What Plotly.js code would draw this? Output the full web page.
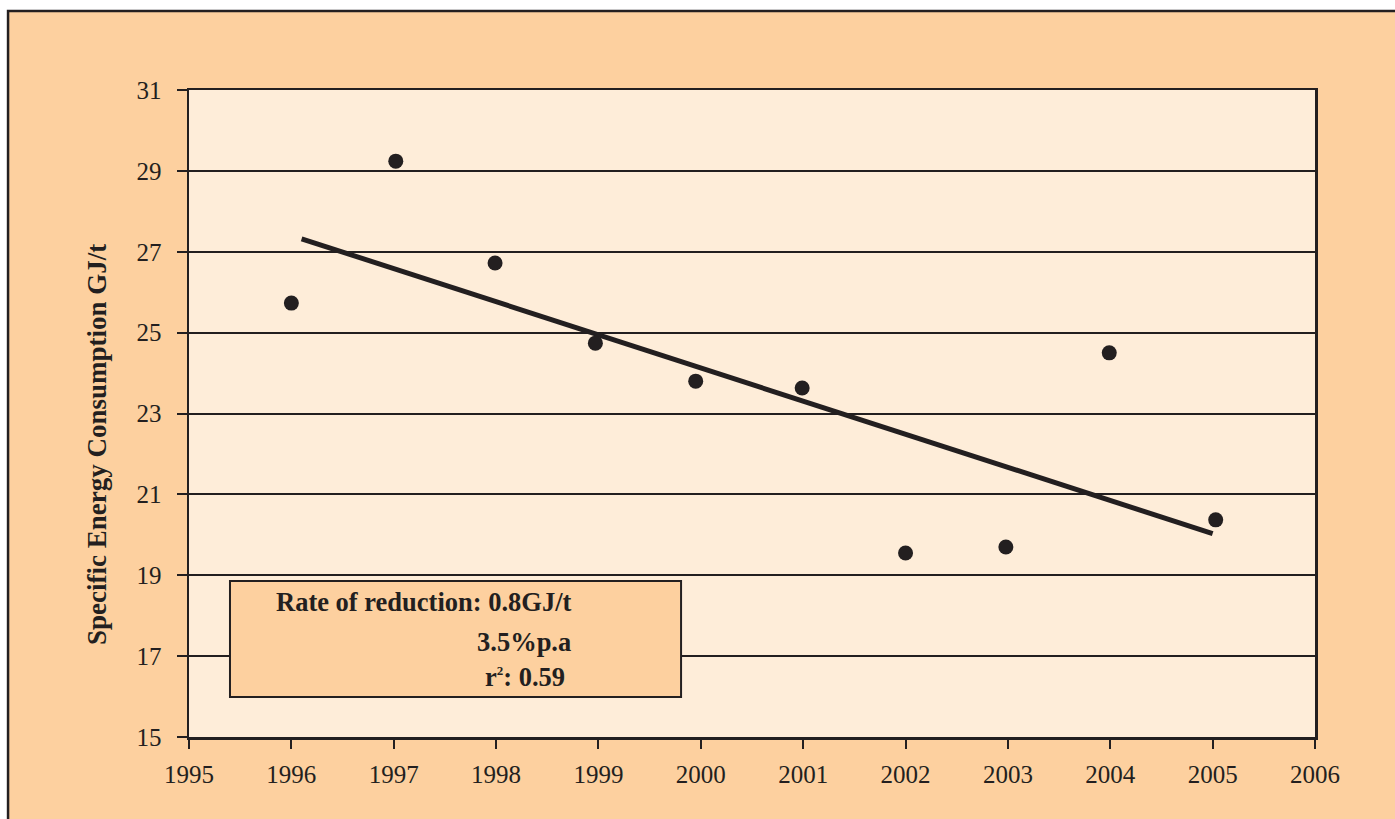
<!DOCTYPE html>
<html>
<head>
<meta charset="utf-8">
<script src="https://cdn.plot.ly/plotly-3.0.1.min.js"></script>
<style>html,body{margin:0;padding:0;background:#fff;}#chart{width:1395px;height:819px;}</style>
</head>
<body>
<div id="chart"></div>
<script>
// Data
const years = [1996.0, 1997.02, 1997.99, 1998.97, 1999.95, 2000.99, 2002.0, 2002.98, 2003.99, 2005.03];
const energy = [25.73, 29.24, 26.72, 24.74, 23.80, 23.63, 19.55, 19.70, 24.50, 20.37];
const trendYears = [1996.1, 2005.0];
const trendValues = [27.32, 20.03];
const xTicks = [1995, 1996, 1997, 1998, 1999, 2000, 2001, 2002, 2003, 2004, 2005, 2006];
const yTicks = [15, 17, 19, 21, 23, 25, 27, 29, 31];
const yTitle = 'Specific Energy Consumption GJ/t';
const noteLines = ['Rate of reduction: 0.8GJ/t', '3.5%p.a', 'r<sup><span style="font-size:13px">2</span></sup>: 0.59'];

const dark = '#231F20';
const orange = '#FDD09F';
const cream = '#FEEDD9';
const serif = '"Liberation Serif", "Times New Roman", serif';

const traces = [
  {x: trendYears, y: trendValues, mode: 'lines', type: 'scatter',
   line: {color: dark, width: 5}, hoverinfo: 'skip', showlegend: false},
  {x: years, y: energy, mode: 'markers', type: 'scatter',
   marker: {color: dark, size: 15, symbol: 'circle'}, showlegend: false}
];

const layout = {
  width: 1395, height: 819,
  margin: {l: 189, r: 80, t: 90, b: 82},
  paper_bgcolor: '#ffffff',
  plot_bgcolor: 'rgba(0,0,0,0)',
  showlegend: false,
  font: {family: serif, color: dark, size: 25},
  xaxis: {
    range: [1995, 2006], tickvals: xTicks, ticktext: xTicks.map(String),
    showgrid: false, zeroline: false,
    showline: true, mirror: true, linecolor: dark, linewidth: 2.5,
    ticks: 'outside', ticklen: 9, tickwidth: 2, tickcolor: dark,
    ticklabelstandoff: 4,
    tickfont: {family: serif, size: 25, color: dark}
  },
  yaxis: {
    range: [15, 31], tickvals: yTicks, ticktext: yTicks.map(String),
    showgrid: true, gridcolor: dark, gridwidth: 2, zeroline: false,
    showline: true, mirror: true, linecolor: dark, linewidth: 2.5,
    ticks: 'outside', ticklen: 10, tickwidth: 2, tickcolor: dark,
    ticklabelstandoff: 10,
    tickfont: {family: serif, size: 25, color: dark}
  },
  shapes: [
    {type: 'rect', xref: 'paper', yref: 'paper', layer: 'below',
     x0: -0.1607, x1: 1.08, y0: -0.14, y1: 1.1221,
     fillcolor: orange, line: {color: dark, width: 2.5}},
    {type: 'rect', xref: 'paper', yref: 'paper', layer: 'below',
     x0: 0, x1: 1, y0: 0, y1: 1,
     fillcolor: cream, line: {width: 0}},
    {type: 'rect', xref: 'paper', yref: 'paper', layer: 'above',
     x0: 0.0364, x1: 0.437, y0: 0.0618, y1: 0.2411,
     fillcolor: orange, line: {color: dark, width: 2}}
  ],
  annotations: [
    {xref: 'paper', yref: 'paper', x: -0.0817, y: 0.4513, xanchor: 'center', yanchor: 'middle',
     textangle: -90, text: '<b>' + yTitle + '</b>', showarrow: false,
     font: {family: serif, size: 27, color: dark}},
    {xref: 'paper', yref: 'paper', x: 0.0755, y: 0.2087, xanchor: 'left', yanchor: 'middle',
     text: '<b>' + noteLines[0] + '</b>', showarrow: false, font: {family: serif, size: 26.5, color: dark}},
    {xref: 'paper', yref: 'paper', x: 0.3410, y: 0.1468, xanchor: 'right', yanchor: 'middle',
     text: '<b>' + noteLines[1] + '</b>', showarrow: false, font: {family: serif, size: 26.5, color: dark}},
    {xref: 'paper', yref: 'paper', x: 0.3355, y: 0.0930, xanchor: 'right', yanchor: 'middle',
     text: '<b>' + noteLines[2] + '</b>', showarrow: false, font: {family: serif, size: 26.5, color: dark}}
  ]
};

Plotly.newPlot('chart', traces, layout, {displayModeBar: false, staticPlot: true});
</script>
</body>
</html>
